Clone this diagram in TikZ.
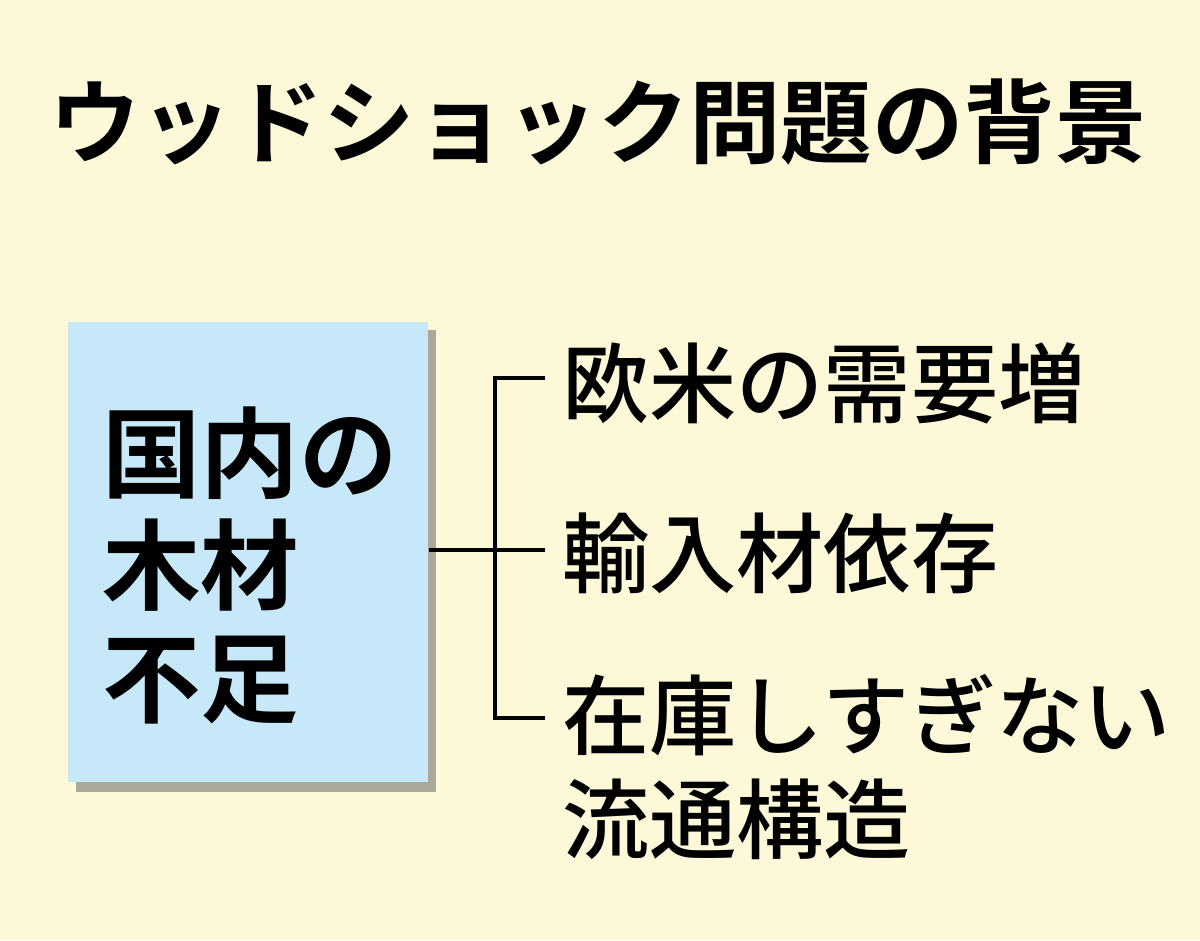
\documentclass[tikz,border=0pt]{standalone}
\usepackage{fontspec}
\newfontfamily\jpb{Noto Sans CJK JP Bold}
\newfontfamily\jpm{Noto Sans CJK JP Medium}
\definecolor{bg}{HTML}{FDF9D8}
\definecolor{boxc}{HTML}{C6E8F9}
\begin{document}
\begin{tikzpicture}[x=0.025cm,y=-0.025cm,
  conn/.style={line width=2.6pt},
  item/.style={anchor=west,font=\jpm\fontsize{62}{66}\selectfont,inner sep=0pt}]
\fill[bg] (0,0) rectangle (1200,940);
\useasboundingbox (0,0) rectangle (1200,940);
\node[font=\jpb\fontsize{65}{70}\selectfont,inner sep=0pt] (title) at (598,122) {ウッドショック問題の背景};
\fill[black!60,opacity=0.55] (76,330) rectangle (436,792);
\node[fill=boxc,minimum width=360*0.025cm,minimum height=460*0.025cm,inner sep=0pt,anchor=north west] (box) at (68,322) {};
\node[font=\jpb\fontsize{70}{79}\selectfont,align=left,anchor=west,inner sep=0pt] (boxt) at (102,565) {国内の\\[1pt]木材\\[1pt]不足};
\node[item] (a) at (562,383) {欧米の需要増};
\node[item] (b) at (562,553) {輸入材依存};
\node[item,align=left,anchor=north west] (c) at (562,674) {在庫しすぎない\\[8pt]流通構造};
\coordinate (j) at (495,550);
\coordinate (ja) at (495,378);
\coordinate (jc) at (495,718);
\draw[conn] (box.east |- j) -- (545,550);
\draw[conn] (545,378) -- (ja) -- (jc) -- (545,718);
\end{tikzpicture}
\end{document}
